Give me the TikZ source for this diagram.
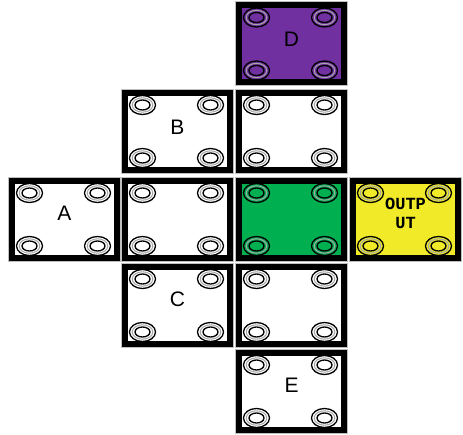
\documentclass[tikz,border=0pt]{standalone}
\usepackage{fontspec}
\setsansfont{Liberation Sans}
\newfontfamily\outfont{Liberation Mono}
\definecolor{cellpurple}{RGB}{112, 48, 160}
\definecolor{cellgreen}{RGB}{0, 176, 80}
\definecolor{cellyellow}{RGB}{240, 234, 40}
\usetikzlibrary{calc}

\begin{document}
\begin{tikzpicture}[x=1pt, y=-1pt,
    cell/.style={draw=black, line width=6pt, rectangle, outer sep=0pt,
                 minimum width=105pt, minimum height=77pt, inner sep=0pt},
    lbl/.style={font=\sffamily\fontsize{21}{23}\selectfont, inner sep=0pt},
    ring/.style={line width=1.3pt, black},
    midring/.style={line width=1pt, gray!70}]
  \useasboundingbox (0,0) rectangle (463,434);

  % cells
  \node[cell, fill=cellpurple] (cD) at (291.5,43.5) {};
  \node[cell, fill=white] (cB) at (177.5,131) {};
  \node[cell, fill=white] (cBR) at (291.5,131) {};
  \node[cell, fill=white] (cA) at (64.5,219) {};
  \node[cell, fill=white] (cM) at (177.5,219) {};
  \node[cell, fill=cellgreen] (cG) at (291.5,219) {};
  \node[cell, fill=cellyellow] (cOut) at (405.5,219) {};
  \node[cell, fill=white] (cC) at (177.5,305) {};
  \node[cell, fill=white] (cCR) at (291.5,305) {};
  \node[cell, fill=white] (cE) at (291.5,391) {};

  % grey edge and corner rings
  \foreach \c in {cD,cB,cBR,cA,cM,cG,cOut,cC,cCR,cE} {
    \draw[gray!50, line width=0.8pt] ([shift={(-3.6,-3.6)}]\c.north west)
      rectangle ([shift={(3.6,3.6)}]\c.south east);
    \foreach \dx/\dy in {-35/-26, 33/-26, -35/27, 33/27} {
      \draw[ring] ($(\c.center)+(\dx,\dy)$) ellipse [x radius=13pt, y radius=9.5pt];
      \draw[midring] ($(\c.center)+(\dx,\dy)$) ellipse [x radius=10.3pt, y radius=7.2pt];
      \draw[ring] ($(\c.center)+(\dx,\dy)$) ellipse [x radius=7.5pt, y radius=5pt];
    }
  }

  % labels
  \node[lbl] (tD) at ([yshift=4pt]cD.center) {D};
  \node[lbl] (tB) at ([yshift=4pt]cB.center) {B};
  \node[lbl] (tA) at ([yshift=6pt]cA.center) {A};
  \node[lbl] (tC) at ([yshift=6pt]cC.center) {C};
  \node[lbl] (tE) at ([yshift=6pt]cE.center) {E};
  \node[font=\outfont\bfseries\fontsize{17}{19}\selectfont, align=center,
        inner sep=0pt] (tOut) at ([yshift=6pt]cOut.center) {OUTP\\UT};
\end{tikzpicture}
\end{document}
